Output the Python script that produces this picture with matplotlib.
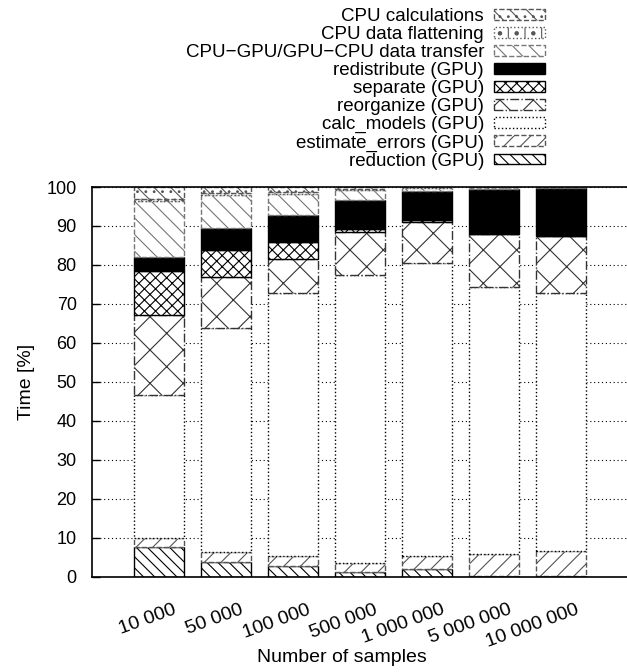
import numpy as np
import matplotlib
matplotlib.use('Agg')
import matplotlib.pyplot as plt

plt.rcParams['font.family'] = ['Liberation Sans', 'DejaVu Sans']
plt.rcParams['hatch.linewidth'] = 0.8

samples = ['10 000', '50 000', '100 000', '500 000', '1 000 000', '5 000 000', '10 000 000']

# stacked segments, bottom to top (% of total time)
reduction    = [7.7, 3.8, 2.8, 1.1, 1.8, 0.2, 0.1]
estimate     = [2.3, 2.6, 2.5, 2.3, 3.5, 5.5, 6.5]
calc_models  = [36.6, 57.3, 67.4, 73.9, 75.3, 68.5, 66.1]
reorganize   = [20.6, 13.1, 8.8, 11.1, 10.5, 13.8, 14.8]
separate     = [11.3, 6.9, 4.5, 0.7, 0.3, 0.0, 0.0]
redistribute = [3.6, 5.7, 6.8, 7.6, 7.5, 11.5, 12.3]
transfer     = [14.2, 8.5, 5.4, 2.6, 0.9, 0.4, 0.1]
flattening   = [0.6, 0.5, 0.4, 0.2, 0.1, 0.0, 0.0]
cpu_calc     = [3.1, 1.6, 1.4, 0.5, 0.3, 0.1, 0.1]

series = [
    ('reduction (GPU)',      reduction,    dict(facecolor='white', edgecolor='black', hatch='\\\\\\', linestyle='-')),
    ('estimate_errors (GPU)', estimate,    dict(facecolor='white', edgecolor='#555555', hatch='//', linestyle='--')),
    ('calc_models (GPU)',    calc_models,  dict(facecolor='white', edgecolor='black', hatch=None, linestyle=':')),
    ('reorganize (GPU)',     reorganize,   dict(facecolor='white', edgecolor='#333333', hatch='x', linestyle='-.')),
    ('separate (GPU)',       separate,     dict(facecolor='white', edgecolor='black', hatch='xxx', linestyle='-')),
    ('redistribute (GPU)',   redistribute, dict(facecolor='black', edgecolor='black', hatch=None, linestyle='-')),
    ('CPU\u2212GPU/GPU\u2212CPU data transfer', transfer, dict(facecolor='white', edgecolor='#777777', hatch='\\\\', linestyle='--')),
    ('CPU data flattening',  flattening,   dict(facecolor='white', edgecolor='#555555', hatch='+.', linestyle=':')),
    ('CPU calculations',     cpu_calc,     dict(facecolor='white', edgecolor='#555555', hatch='\\\\..', linestyle='--')),
]

W, H = 627, 672
fig = plt.figure(figsize=(W / 100, H / 100), dpi=100)
ax = fig.add_axes([92 / W, 95.5 / H, (W - 92) / W, 389.5 / H])

x = np.arange(len(samples))
bottom = np.zeros(len(samples))
handles = []
for label, vals, st in series:
    vals = np.array(vals)
    bars = ax.bar(x, vals, 0.76, bottom=bottom, label=label, linewidth=1.0, zorder=2, **st)
    handles.append(bars)
    bottom += vals

ax.set_xlim(-1, 6.985)
ax.set_ylim(0, 100)
ax.set_yticks(np.arange(0, 101, 10))
ax.set_xticks(x)
ax.set_xticklabels([])
ax.tick_params(axis='x', length=0)
ax.tick_params(axis='y', direction='in', length=6, width=1, labelsize=13, pad=11)
ax.yaxis.grid(True, linestyle=(0, (1, 2.5)), color='black', linewidth=0.8, zorder=0)
ax.set_axisbelow(True)
ax.spines['right'].set_visible(False)
for s in ['left', 'bottom', 'top']:
    ax.spines[s].set_linewidth(1.2)

ax.set_ylabel('Time [%]', fontsize=14, labelpad=8)

# rotated sample labels
for xi, lab in zip(x, samples):
    ax.annotate(lab, xy=(xi, 0), xycoords='data', xytext=(17, -33), textcoords='offset pixels',
                rotation=20, ha='right', va='center', rotation_mode='anchor', fontsize=14)

fig.text(342 / W, 1 - 662 / H, 'Number of samples', ha='center', va='baseline', fontsize=14)

leg = fig.legend(handles[::-1], [s[0] for s in series][::-1], loc='upper right',
                 bbox_to_anchor=(545 / W, 1 - 8 / H), markerfirst=False, frameon=False,
                 fontsize=13.5, handlelength=2.7, handleheight=0.5, labelspacing=0.055,
                 handletextpad=0.55, borderpad=0, borderaxespad=0)

fig.savefig('out.png', dpi=100)
